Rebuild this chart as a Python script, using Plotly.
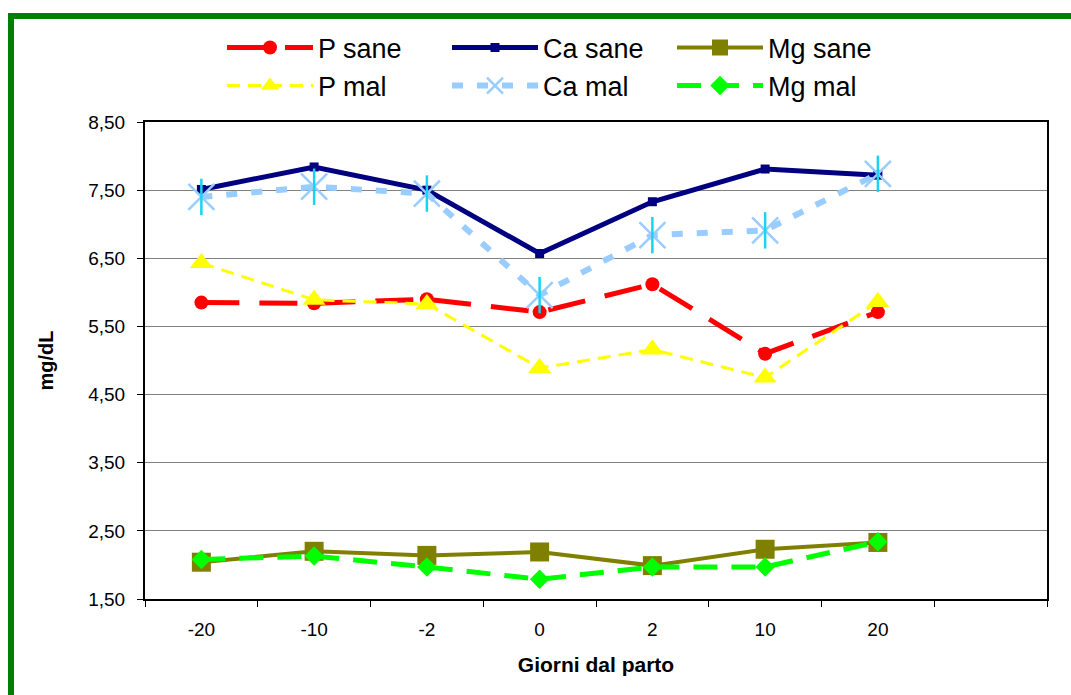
import plotly.graph_objects as go

# Days relative to calving (the last slot of the axis is left empty)
giorni = ["-20", "-10", "-2", "0", "2", "10", "20"]
slot_vuoto = " "

# Serum values, mg/dL
p_sane = [5.85, 5.84, 5.90, 5.71, 6.12, 5.10, 5.71]
ca_sane = [7.51, 7.84, 7.50, 6.57, 7.33, 7.81, 7.72]
mg_sane = [2.04, 2.20, 2.14, 2.19, 1.99, 2.23, 2.33]
p_mal = [6.43, 5.89, 5.83, 4.89, 5.16, 4.75, 5.86]
ca_mal = [7.40, 7.55, 7.45, 5.96, 6.84, 6.91, 7.74]
mg_mal = [2.08, 2.13, 1.97, 1.79, 1.97, 1.97, 2.34]

y_ticks = [1.5, 2.5, 3.5, 4.5, 5.5, 6.5, 7.5, 8.5]

FONT = "Liberation Sans, Arial, sans-serif"

fig = go.Figure()

# healthy cows -> first legend row, sick cows -> second legend row
fig.add_trace(go.Scatter(
    x=giorni, y=p_sane, name="P sane", mode="lines+markers", legend="legend",
    line=dict(color="#FF0000", width=5, dash="38px,20px"),
    marker=dict(symbol="circle", size=14, color="#FF0000"),
))
fig.add_trace(go.Scatter(
    x=giorni, y=ca_sane, name="Ca sane", mode="lines+markers", legend="legend",
    line=dict(color="#000080", width=5),
    marker=dict(symbol="square", size=9, color="#000080"),
))
fig.add_trace(go.Scatter(
    x=giorni, y=mg_sane, name="Mg sane", mode="lines+markers", legend="legend",
    line=dict(color="#808000", width=4),
    marker=dict(symbol="square", size=19, color="#808000"),
))
fig.add_trace(go.Scatter(
    x=giorni, y=p_mal, name="P mal", mode="lines+markers", legend="legend2",
    line=dict(color="#FFFF00", width=3, dash="13px,8px"),
    marker=dict(symbol="triangle-up", size=20, color="#FFFF00"),
))
fig.add_trace(go.Scatter(
    x=giorni, y=ca_mal, name="Ca mal", mode="lines+markers", legend="legend2",
    line=dict(color="#99CCFF", width=6, dash="11px,14px"),
    marker=dict(symbol="x-thin-open", size=26,
                line=dict(color="#00CCFF", width=2.5)),
))
# vertical stroke completing the asterisk markers
fig.add_trace(go.Scatter(
    x=giorni, y=ca_mal, mode="markers", showlegend=False, hoverinfo="skip",
    marker=dict(symbol="line-ns-open", size=26,
                line=dict(color="#00CCFF", width=2.5)),
))
fig.add_trace(go.Scatter(
    x=giorni, y=mg_mal, name="Mg mal", mode="lines+markers", legend="legend2",
    line=dict(color="#00FF00", width=5, dash="24px,14px"),
    marker=dict(symbol="diamond", size=15, color="#00FF00"),
))

L, R, T, B = 145, 24, 122, 96
W, H = 1071, 695
pw, ph = W - L - R, H - T - B


def px_x(x):
    return (x - L) / pw


def px_y(y):
    return (H - B - y) / ph


legend_style = dict(
    orientation="h", x=px_x(222), xanchor="left", yanchor="middle",
    font=dict(size=27, family=FONT, color="black"),
    itemwidth=86, entrywidth=124, entrywidthmode="pixels",
    bgcolor="rgba(0,0,0,0)", itemsizing="trace",
)

fig.update_layout(
    width=W, height=H,
    margin=dict(l=L, r=R, t=T, b=B, autoexpand=False),
    paper_bgcolor="white", plot_bgcolor="white",
    separators=",.",
    font=dict(family=FONT, color="black"),
    showlegend=True,
    legend=dict(legend_style, y=px_y(48)),
    legend2=dict(legend_style, y=px_y(86)),
    shapes=[dict(
        type="rect", xref="paper", yref="paper",
        x0=px_x(11), x1=px_x(1200), y0=px_y(900), y1=px_y(16),
        line=dict(color="#008000", width=6), fillcolor="rgba(0,0,0,0)",
        layer="above",
    )],
)

fig.update_xaxes(
    type="category", categoryorder="array", categoryarray=giorni + [slot_vuoto],
    range=[-0.5, 7.5], tickson="boundaries",
    ticks="outside", ticklen=6, tickwidth=1, tickcolor="black",
    showline=True, linecolor="black", linewidth=2, mirror=True,
    showgrid=False, zeroline=False, ticklabelstandoff=12,
    tickfont=dict(size=19, family=FONT, color="black"),
    title=dict(text="<b>Giorni dal parto</b>", standoff=19,
               font=dict(size=21, family=FONT, color="black")),
)
fig.update_yaxes(
    range=[1.5, 8.5], tickvals=y_ticks, tickformat=".2f",
    ticks="outside", ticklen=6, tickwidth=1, tickcolor="black",
    showline=True, linecolor="black", linewidth=2, mirror=True,
    showgrid=True, gridcolor="#808080", gridwidth=1, zeroline=False,
    ticklabelstandoff=8,
    tickfont=dict(size=19, family=FONT, color="black"),
    title=dict(text="<b>mg/dL</b>", standoff=29,
               font=dict(size=20, family=FONT, color="black")),
)

fig.write_html("out.html")
